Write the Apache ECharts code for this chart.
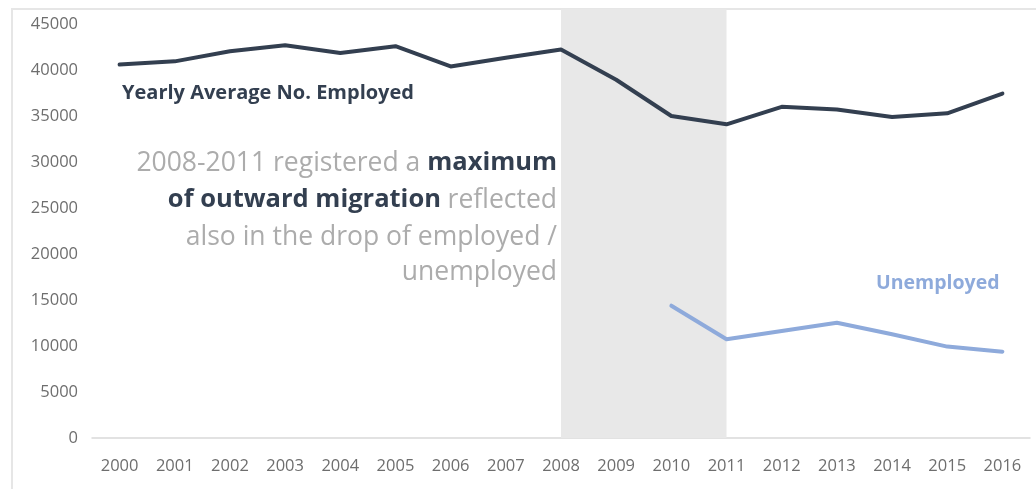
<!DOCTYPE html>
<html>
<head>
<meta charset="utf-8">
<script src="https://cdn.jsdelivr.net/npm/echarts@6/dist/echarts.min.js"></script>
<style>
  html, body { margin: 0; padding: 0; background: #fff; }
  #frame { position: absolute; left: 11px; top: 8px; right: -2px; bottom: -2px; border: 2px solid #e6e6e6; box-sizing: border-box; }
  #chart { position: absolute; left: 0; top: 0; width: 1036px; height: 489px; }
</style>
</head>
<body>
<div id="frame"></div>
<div id="chart"></div>
<script>
// Years on the horizontal axis
const years = ['2000', '2001', '2002', '2003', '2004', '2005', '2006', '2007', '2008',
               '2009', '2010', '2011', '2012', '2013', '2014', '2015', '2016'];

// Yearly average number of employed persons
const employed = [40650, 41000, 42100, 42750, 41900, 42650, 40450, 41400, 42300,
                  39000, 35050, 34150, 36050, 35750, 34950, 35350, 37500];

// Unemployed persons (series starts in 2010)
const unemployed = [null, null, null, null, null, null, null, null, null,
                    null, 14400, 10750, 11650, 12550, 11300, 9950, 9400];

// Highlighted migration period
const migrationPeriod = ['2008', '2011'];

// Y axis ticks
const yMin = 0;
const yStep = 5000;

const FONT = 'Open Sans';
const NAVY = '#333f50';
const LIGHT_BLUE = '#8eaadb';
const NOTE_GREY = '#acacac';

const chart = echarts.init(document.getElementById('chart'), null, { renderer: 'canvas' });

const noteRich = {
  g: { fill: NOTE_GREY, fontFamily: FONT, fontSize: 26.5 },
  b: { fill: NAVY, fontFamily: FONT, fontSize: 25.5, fontWeight: 'bold' }
};

chart.setOption({
  animation: false,
  grid: { left: 92, right: 6, top: 9, bottom: 51, containLabel: false },
  xAxis: {
    type: 'category',
    data: years,
    boundaryGap: true,
    axisLine: { show: true, lineStyle: { color: '#d9d9d9', width: 1.5 } },
    axisTick: { show: false },
    axisLabel: { color: '#6e6e6e', fontFamily: FONT, fontSize: 16.5, margin: 20 }
  },
  yAxis: {
    type: 'value',
    min: yMin,
    max: 46700,
    interval: yStep,
    splitLine: { show: false },
    axisLine: { show: false },
    axisTick: { show: false },
    axisLabel: {
      color: '#6e6e6e', fontFamily: FONT, fontSize: 16.5, margin: 14, showMaxLabel: false,
      formatter: v => String(v)
    }
  },
  series: [
    {
      name: 'Yearly Average No. Employed',
      type: 'line',
      data: employed,
      symbol: 'none',
      lineStyle: { color: NAVY, width: 4, cap: 'round', join: 'round' },
      z: 3,
      markArea: {
        silent: true,
        itemStyle: { color: '#e8e8e8' },
        data: [[{ xAxis: migrationPeriod[0] }, { xAxis: migrationPeriod[1] }]]
      }
    },
    {
      name: 'Unemployed',
      type: 'line',
      data: unemployed,
      symbol: 'none',
      connectNulls: false,
      lineStyle: { color: LIGHT_BLUE, width: 4, cap: 'round', join: 'round' },
      z: 3
    }
  ],
  graphic: [
    {
      type: 'text', x: 122, y: 93, z: 10,
      style: { text: 'Yearly Average No. Employed', fill: NAVY, font: 'bold 20px "Open Sans"', verticalAlign: 'middle' }
    },
    {
      type: 'text', x: 876, y: 283, z: 10,
      style: { text: 'Unemployed', fill: LIGHT_BLUE, font: 'bold 19.5px "Open Sans"', verticalAlign: 'middle' }
    },
    {
      type: 'group', z: 10,
      children: [
        {
          type: 'text', x: 557, y: 163,
          style: { text: '{g|2008-2011 registered a }{b|maximum}', align: 'right', verticalAlign: 'middle', rich: noteRich }
        },
        {
          type: 'text', x: 557, y: 200,
          style: { text: '{b|of outward migration }{g|reflected}', align: 'right', verticalAlign: 'middle', rich: noteRich }
        },
        {
          type: 'text', x: 557, y: 237,
          style: { text: '{g|also in the drop of employed /}', align: 'right', verticalAlign: 'middle', rich: noteRich }
        },
        {
          type: 'text', x: 557, y: 272,
          style: { text: '{g|unemployed}', align: 'right', verticalAlign: 'middle', rich: noteRich }
        }
      ]
    }
  ]
});
</script>
</body>
</html>
